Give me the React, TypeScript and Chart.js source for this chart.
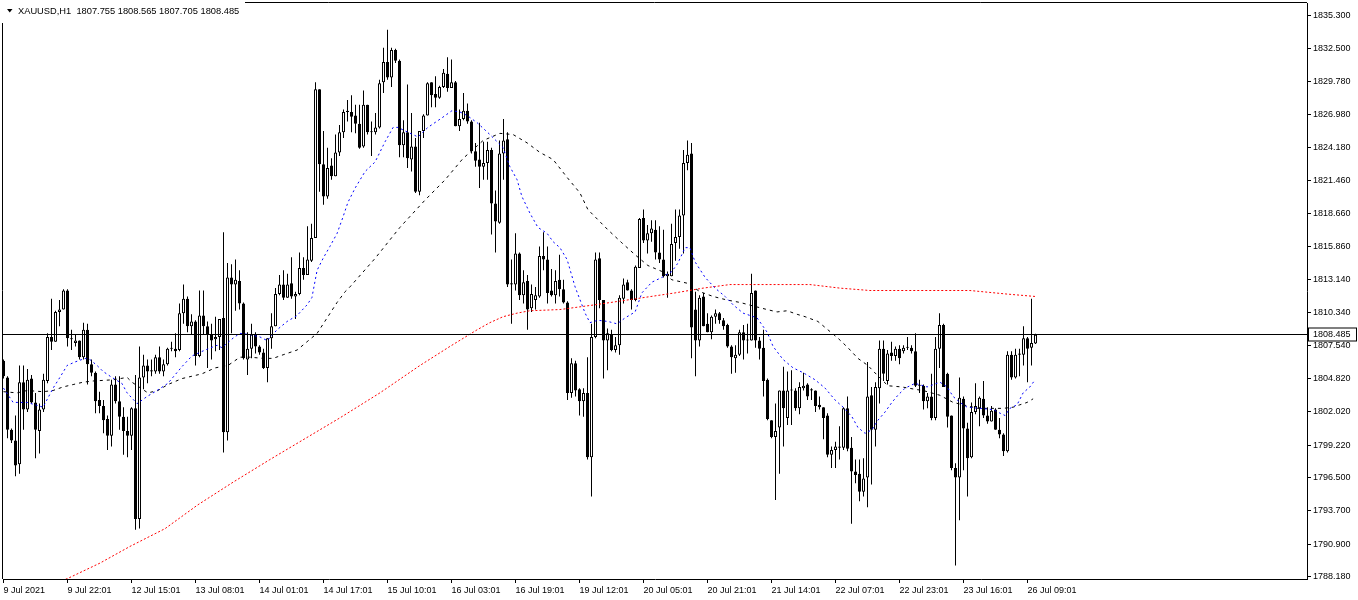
import React, { useEffect, useRef } from "react";
import { Chart, registerables } from "chart.js";

Chart.register(...registerables);

const symbolTitle = "XAUUSD,H1  1807.755 1808.565 1807.705 1808.485";
const bidPrice = 1808.485;
const timeLabelStep = 16;
const timeLabels = [
  "9 Jul 2021", "9 Jul 22:01", "12 Jul 15:01", "13 Jul 08:01", "14 Jul 01:01", "14 Jul 17:01",
  "15 Jul 10:01", "16 Jul 03:01", "16 Jul 19:01", "19 Jul 12:01", "20 Jul 05:01", "20 Jul 21:01",
  "21 Jul 14:01", "22 Jul 07:01", "22 Jul 23:01", "23 Jul 16:01", "26 Jul 09:01",
];
const priceTicks = [
  1835.3, 1832.5, 1829.78, 1826.98, 1824.18, 1821.46, 1818.66, 1815.86, 1813.14, 1810.34,
  1807.54, 1804.82, 1802.02, 1799.22, 1796.5, 1793.7, 1790.9, 1788.18,
];

const open = [
  1806.3, 1804.9, 1800.5, 1799.6, 1797.6, 1804.5, 1802.2, 1804.8, 1802.8, 1800.4,
  1802.2, 1804.6, 1808.3, 1807.9, 1810.4, 1810.6, 1812.2, 1808.2, 1807.8, 1808.0,
  1806.6, 1808.9, 1806.0, 1805.3, 1803.0, 1802.5, 1801.4, 1800.0, 1804.3, 1802.9,
  1801.6, 1800.4, 1800.0, 1802.3, 1793.0, 1804.9, 1805.9, 1805.5, 1805.4, 1806.6,
  1805.4, 1806.0, 1807.3, 1807.3, 1807.2, 1810.3, 1811.5, 1809.2, 1809.6, 1806.7,
  1810.1, 1809.2, 1808.5, 1808.1, 1808.3, 1809.9, 1800.3, 1813.3, 1812.7, 1813.0,
  1811.1, 1806.4, 1807.3, 1808.5, 1807.5, 1807.0, 1805.7, 1808.2, 1809.2, 1811.9,
  1812.7, 1811.6, 1812.8, 1811.7, 1811.9, 1814.1, 1813.5, 1814.7, 1816.6, 1829.1,
  1822.8, 1820.1, 1822.7, 1821.8, 1823.8, 1825.5, 1827.2, 1827.2, 1826.9, 1826.2,
  1824.3, 1827.8, 1825.5, 1825.5, 1825.9, 1829.7, 1831.4, 1830.1, 1832.4, 1831.5,
  1824.4, 1825.5, 1823.2, 1824.3, 1820.5, 1825.6, 1826.9, 1829.7, 1828.7, 1828.4,
  1829.3, 1830.4, 1829.2, 1829.7, 1826.0, 1826.6, 1827.3, 1826.4, 1823.9, 1823.2,
  1822.6, 1822.9, 1824.0, 1819.5, 1817.9, 1823.7, 1824.9, 1812.8, 1812.7, 1815.3,
  1811.8, 1813.0, 1810.7, 1811.4, 1811.7, 1815.1, 1814.8, 1812.2, 1811.8, 1813.1,
  1812.3, 1811.2, 1803.6, 1806.1, 1803.9, 1802.9, 1803.6, 1798.2, 1808.3, 1814.9,
  1811.4, 1808.0, 1808.5, 1807.2, 1807.6, 1811.5, 1812.9, 1812.2, 1811.4, 1814.1,
  1818.3, 1816.4, 1817.0, 1817.3, 1815.4, 1814.8, 1813.4, 1813.4, 1816.2, 1816.7,
  1818.5, 1822.9, 1823.7, 1810.6, 1808.0, 1811.7, 1809.4, 1808.7, 1810.0, 1810.3,
  1809.7, 1809.3, 1807.5, 1806.5, 1806.8, 1808.7, 1808.0, 1808.0, 1812.2, 1808.0,
  1807.4, 1804.7, 1801.3, 1799.9, 1800.7, 1803.8, 1801.5, 1803.8, 1803.8, 1802.3,
  1804.0, 1804.3, 1803.9, 1803.8, 1802.6, 1802.4, 1801.7, 1798.4, 1798.8, 1799.1,
  1799.0, 1802.3, 1799.0, 1797.0, 1796.8, 1795.3, 1796.5, 1803.4, 1800.5, 1804.0,
  1807.3, 1804.6, 1807.0, 1806.7, 1807.3, 1807.1, 1807.4, 1807.4, 1807.1, 1804.2,
  1804.2, 1802.9, 1803.3, 1801.5, 1807.3, 1809.3, 1805.2, 1801.7, 1797.3, 1796.5,
  1803.1, 1800.6, 1798.2, 1802.0, 1802.3, 1803.1, 1801.7, 1801.2, 1802.2, 1800.5,
  1800.1, 1798.7, 1806.8, 1804.9, 1806.8, 1806.8, 1808.2, 1807.4, 1807.755,
];
const high = [
  1806.4, 1805.0, 1800.6, 1801.7, 1805.9, 1805.9, 1805.6, 1805.1, 1803.6, 1802.7,
  1805.2, 1808.6, 1811.5, 1810.5, 1811.4, 1812.3, 1812.3, 1808.9, 1808.5, 1808.0,
  1809.5, 1809.4, 1806.4, 1805.4, 1803.7, 1803.0, 1801.7, 1804.7, 1805.0, 1805.0,
  1802.4, 1801.6, 1802.4, 1805.1, 1807.5, 1806.8, 1806.4, 1806.4, 1806.8, 1807.5,
  1806.4, 1807.4, 1807.9, 1808.6, 1811.1, 1812.7, 1811.7, 1810.2, 1809.7, 1812.2,
  1812.2, 1809.6, 1809.4, 1810.0, 1809.8, 1817.1, 1814.5, 1814.4, 1814.8, 1813.9,
  1811.2, 1808.7, 1809.4, 1808.7, 1807.6, 1807.3, 1808.2, 1810.3, 1812.4, 1813.5,
  1813.9, 1813.6, 1815.0, 1812.1, 1815.4, 1815.0, 1817.6, 1817.8, 1829.7, 1829.1,
  1825.6, 1824.2, 1823.3, 1825.3, 1826.1, 1827.4, 1828.2, 1828.6, 1827.8, 1827.8,
  1829.0, 1827.8, 1826.4, 1827.1, 1829.9, 1832.6, 1834.1, 1832.6, 1832.5, 1831.6,
  1826.5, 1829.5, 1827.1, 1825.0, 1825.6, 1827.0, 1829.7, 1829.7, 1830.2, 1829.4,
  1830.8, 1831.8, 1831.6, 1829.8, 1827.4, 1828.8, 1827.9, 1826.5, 1824.6, 1826.3,
  1824.7, 1824.7, 1824.2, 1820.6, 1824.8, 1826.6, 1825.5, 1814.8, 1817.0, 1815.4,
  1813.9, 1813.5, 1812.7, 1812.5, 1815.9, 1817.1, 1815.9, 1814.0, 1813.9, 1815.2,
  1813.1, 1811.3, 1806.5, 1806.3, 1804.0, 1804.0, 1806.6, 1809.4, 1815.4, 1815.4,
  1811.4, 1809.0, 1808.9, 1808.3, 1811.8, 1813.2, 1813.1, 1812.3, 1814.3, 1818.3,
  1819.0, 1817.7, 1818.1, 1818.1, 1817.6, 1817.3, 1813.8, 1817.8, 1819.0, 1819.0,
  1824.0, 1824.8, 1824.6, 1812.1, 1811.8, 1812.0, 1810.3, 1810.1, 1810.6, 1810.4,
  1809.9, 1809.4, 1807.6, 1807.6, 1808.9, 1809.3, 1809.4, 1813.6, 1812.2, 1808.3,
  1808.9, 1804.8, 1801.3, 1802.7, 1803.8, 1805.8, 1805.4, 1805.5, 1804.0, 1804.5,
  1805.3, 1804.4, 1804.0, 1803.8, 1803.3, 1802.4, 1801.9, 1799.1, 1799.5, 1800.8,
  1802.4, 1803.3, 1799.9, 1798.0, 1798.0, 1798.1, 1806.2, 1804.1, 1804.5, 1808.0,
  1808.0, 1807.2, 1807.9, 1807.5, 1807.6, 1807.6, 1808.3, 1807.6, 1808.6, 1804.7,
  1804.3, 1803.6, 1805.2, 1808.3, 1810.3, 1809.4, 1805.3, 1801.7, 1797.7, 1804.9,
  1803.3, 1801.1, 1802.8, 1804.4, 1803.3, 1804.6, 1802.4, 1802.5, 1802.3, 1801.5,
  1800.2, 1807.1, 1807.1, 1807.3, 1807.3, 1809.2, 1808.3, 1811.5, 1808.565,
];
const low = [
  1804.8, 1799.8, 1799.4, 1796.6, 1796.8, 1800.5, 1802.0, 1802.7, 1798.1, 1798.5,
  1802.0, 1804.4, 1807.2, 1807.9, 1809.2, 1810.6, 1807.5, 1807.2, 1807.5, 1806.4,
  1806.4, 1804.3, 1805.0, 1801.9, 1801.9, 1800.2, 1798.8, 1799.1, 1802.7, 1800.5,
  1798.4, 1798.2, 1798.8, 1792.1, 1792.2, 1803.9, 1804.4, 1805.0, 1805.2, 1805.2,
  1805.0, 1805.9, 1807.1, 1806.6, 1807.1, 1809.4, 1808.7, 1808.5, 1805.9, 1806.6,
  1808.5, 1805.7, 1806.4, 1807.1, 1807.2, 1798.6, 1799.6, 1808.6, 1810.5, 1810.6,
  1806.4, 1805.1, 1806.5, 1806.9, 1806.8, 1805.6, 1804.5, 1807.3, 1809.2, 1811.8,
  1811.4, 1811.6, 1811.5, 1809.8, 1811.8, 1813.1, 1813.5, 1814.6, 1816.6, 1820.5,
  1819.4, 1819.9, 1821.5, 1821.8, 1823.5, 1825.0, 1826.4, 1825.5, 1825.4, 1824.1,
  1824.2, 1825.3, 1823.5, 1825.3, 1825.8, 1828.8, 1829.9, 1829.3, 1831.3, 1823.4,
  1823.4, 1822.5, 1822.2, 1820.4, 1820.2, 1825.0, 1826.9, 1827.6, 1827.6, 1828.3,
  1829.2, 1828.9, 1829.2, 1826.0, 1825.6, 1826.5, 1826.2, 1823.7, 1822.6, 1820.8,
  1821.5, 1821.5, 1816.9, 1815.4, 1817.8, 1821.5, 1812.5, 1809.4, 1812.2, 1811.4,
  1811.1, 1808.9, 1810.4, 1810.6, 1811.6, 1813.9, 1811.1, 1811.7, 1811.1, 1811.7,
  1811.1, 1803.0, 1803.2, 1803.3, 1801.7, 1801.6, 1798.0, 1794.9, 1808.2, 1810.7,
  1804.8, 1805.5, 1807.1, 1807.0, 1806.8, 1811.1, 1812.2, 1810.6, 1811.3, 1814.1,
  1816.2, 1815.3, 1816.3, 1814.8, 1814.5, 1813.3, 1811.6, 1813.4, 1814.7, 1815.7,
  1815.3, 1822.3, 1806.5, 1805.0, 1807.5, 1809.2, 1808.7, 1808.1, 1809.4, 1809.4,
  1808.9, 1807.4, 1805.2, 1805.3, 1806.7, 1806.4, 1806.9, 1808.0, 1807.4, 1806.4,
  1803.3, 1801.3, 1799.8, 1794.6, 1796.8, 1799.1, 1800.9, 1800.9, 1802.1, 1801.8,
  1803.8, 1803.0, 1803.0, 1802.0, 1802.2, 1799.7, 1798.2, 1797.3, 1797.3, 1798.0,
  1798.8, 1798.7, 1792.6, 1796.0, 1794.5, 1794.9, 1794.0, 1795.9, 1799.1, 1802.7,
  1804.6, 1804.3, 1806.3, 1806.3, 1806.0, 1806.9, 1807.2, 1806.9, 1804.1, 1803.6,
  1802.2, 1802.3, 1801.3, 1801.3, 1805.7, 1804.1, 1800.7, 1797.1, 1789.1, 1792.9,
  1797.1, 1794.9, 1798.1, 1801.8, 1800.8, 1801.5, 1801.0, 1801.2, 1800.5, 1799.8,
  1798.3, 1798.6, 1804.7, 1804.8, 1805.0, 1805.9, 1804.5, 1805.9, 1807.705,
];
const close = [
  1805.0, 1800.5, 1799.6, 1797.5, 1804.5, 1802.2, 1804.7, 1802.8, 1800.5, 1802.2,
  1804.7, 1808.3, 1807.9, 1810.4, 1810.6, 1812.2, 1808.2, 1808.1, 1808.0, 1806.6,
  1808.9, 1806.0, 1805.3, 1802.9, 1802.5, 1801.3, 1800.0, 1804.3, 1802.9, 1801.6,
  1800.4, 1800.0, 1802.3, 1793.0, 1804.9, 1805.9, 1805.4, 1805.4, 1806.6, 1805.4,
  1806.0, 1807.3, 1807.3, 1807.1, 1810.3, 1811.5, 1809.2, 1809.6, 1806.7, 1810.1,
  1809.2, 1808.5, 1808.0, 1808.3, 1809.8, 1800.3, 1813.3, 1812.7, 1813.1, 1811.1,
  1806.5, 1807.3, 1808.5, 1807.5, 1807.0, 1805.7, 1808.2, 1809.2, 1811.9, 1812.7,
  1811.6, 1812.7, 1811.7, 1811.9, 1814.1, 1813.5, 1814.8, 1816.6, 1829.1, 1822.8,
  1820.1, 1822.5, 1821.8, 1823.8, 1825.5, 1827.2, 1827.3, 1826.8, 1826.2, 1824.2,
  1827.8, 1825.5, 1825.5, 1825.9, 1829.6, 1831.4, 1830.1, 1832.4, 1831.5, 1824.4,
  1825.5, 1823.3, 1824.3, 1820.5, 1825.6, 1826.9, 1829.6, 1828.6, 1828.4, 1829.3,
  1830.5, 1829.2, 1829.7, 1826.0, 1826.6, 1827.3, 1826.4, 1823.9, 1823.1, 1822.6,
  1822.9, 1824.0, 1819.5, 1818.0, 1823.7, 1824.8, 1812.7, 1812.7, 1815.3, 1811.8,
  1812.9, 1810.6, 1811.9, 1811.8, 1815.1, 1814.8, 1812.0, 1811.8, 1813.0, 1812.3,
  1811.2, 1803.6, 1806.1, 1803.8, 1802.9, 1803.6, 1798.2, 1808.3, 1814.8, 1811.4,
  1808.0, 1808.6, 1807.2, 1807.6, 1811.6, 1812.7, 1812.2, 1811.4, 1814.2, 1818.2,
  1816.4, 1817.0, 1817.4, 1815.4, 1814.8, 1813.4, 1813.6, 1816.1, 1816.7, 1818.5,
  1822.9, 1823.6, 1809.1, 1808.0, 1811.6, 1809.2, 1808.7, 1810.0, 1810.3, 1809.7,
  1809.2, 1807.5, 1806.6, 1806.8, 1808.7, 1808.0, 1808.0, 1812.0, 1808.0, 1807.3,
  1804.6, 1801.4, 1799.9, 1800.4, 1803.8, 1802.3, 1803.8, 1803.8, 1802.3, 1804.1,
  1804.2, 1803.3, 1803.8, 1802.5, 1802.4, 1801.5, 1798.4, 1798.8, 1799.1, 1799.0,
  1802.3, 1798.9, 1797.0, 1796.7, 1795.3, 1796.4, 1803.3, 1800.5, 1804.1, 1807.3,
  1805.2, 1806.9, 1806.7, 1807.3, 1806.5, 1807.4, 1807.4, 1807.1, 1804.2, 1804.2,
  1802.9, 1803.3, 1801.5, 1807.3, 1809.3, 1804.1, 1801.6, 1797.3, 1796.5, 1803.2,
  1800.6, 1798.1, 1802.0, 1802.5, 1803.2, 1801.7, 1801.2, 1802.1, 1800.5, 1800.1,
  1798.7, 1806.8, 1804.9, 1806.8, 1806.9, 1808.2, 1807.3, 1807.8, 1808.485,
];

// moving averages: [bar index, price]
const maFast: [number, number][] = [
  [0, 1804.0], [2.4, 1802.8], [5.9, 1802.8], [9.9, 1802.4], [12.4, 1804.0], [14.1, 1804.9],
  [15.9, 1805.9], [17.9, 1806.2], [20.4, 1806.5], [21.6, 1806.4], [23.4, 1805.9], [24.9, 1805.4],
  [27.1, 1804.9], [29.6, 1804.4], [30.9, 1803.6], [33.4, 1802.7], [35.9, 1803.3], [37.9, 1803.7],
  [41.1, 1804.4], [44.6, 1805.8], [47.1, 1806.7], [50.4, 1807.2], [53.4, 1807.6], [54.6, 1807.4],
  [57.4, 1808.2], [59.1, 1808.6], [61.6, 1808.5], [64.1, 1808.3], [65.9, 1808.0], [68.4, 1808.9],
  [70.9, 1809.6], [73.4, 1810.1], [75.9, 1811.0], [77.1, 1811.6], [78.4, 1813.9], [79.9, 1814.9],
  [81.6, 1815.9], [83.4, 1817.0], [84.9, 1818.4], [86.1, 1819.6], [87.9, 1820.8], [90.4, 1822.2],
  [92.9, 1823.0], [95.4, 1824.7], [97.4, 1825.9], [98.6, 1825.9], [101.1, 1825.5], [103.6, 1825.1],
  [106.1, 1825.9], [109.6, 1826.7], [112.1, 1827.3], [114.1, 1827.2], [115.9, 1826.9], [118.4, 1826.3],
  [121.6, 1825.3], [124.9, 1824.2], [126.6, 1822.6], [128.4, 1821.5], [129.6, 1820.1], [131.6, 1818.7],
  [133.6, 1817.5], [135.9, 1817.0], [137.4, 1816.3], [139.1, 1815.8], [140.9, 1814.8], [142.9, 1812.5],
  [145.4, 1810.3], [146.6, 1809.5], [148.6, 1809.7], [151.1, 1809.6], [153.4, 1809.4], [155.4, 1809.9],
  [157.9, 1810.4], [159.6, 1812.0], [162.1, 1812.9], [164.6, 1813.3], [167.1, 1813.8], [168.6, 1814.5],
  [170.4, 1815.8], [171.6, 1815.8], [172.9, 1814.6], [175.4, 1813.3], [177.9, 1812.4], [180.4, 1811.7],
  [182.4, 1811.0], [184.9, 1810.3], [188.4, 1809.9], [190.9, 1808.7], [192.4, 1807.5], [194.9, 1806.4],
  [197.4, 1805.7], [199.9, 1805.3], [202.9, 1804.7], [205.4, 1804.0], [207.9, 1803.0], [209.9, 1802.4],
  [212.1, 1801.6], [213.6, 1800.7], [215.4, 1800.2], [217.1, 1800.5], [218.6, 1801.3], [220.4, 1802.0],
  [222.1, 1802.8], [223.6, 1803.4], [225.4, 1804.0], [227.9, 1804.4], [230.9, 1804.1], [234.1, 1804.5],
  [235.9, 1804.1], [237.4, 1803.3], [239.1, 1802.8], [240.9, 1802.4], [244.1, 1802.3], [247.4, 1802.2],
  [249.1, 1801.9], [250.4, 1801.7], [251.6, 1802.3], [253.4, 1802.6], [254.9, 1803.6], [256.6, 1804.1],
  [257.9, 1804.7],
];
const maMid: [number, number][] = [
  [0, 1803.7], [3.4, 1803.6], [5.9, 1803.8], [9.9, 1803.7], [12.4, 1803.8], [14.9, 1804.1],
  [17.4, 1804.3], [19.9, 1804.5], [22.4, 1804.6], [27.4, 1804.7], [30.9, 1804.9], [32.1, 1804.5],
  [36.1, 1803.6], [38.6, 1803.8], [41.1, 1804.3], [44.6, 1804.8], [47.1, 1805.0], [49.6, 1805.2],
  [52.9, 1805.7], [56.1, 1805.9], [57.4, 1806.2], [59.1, 1806.6], [61.6, 1806.6], [64.9, 1806.5],
  [67.4, 1806.5], [69.9, 1806.8], [73.4, 1807.2], [75.9, 1807.9], [78.4, 1808.6], [80.9, 1809.9],
  [83.4, 1811.2], [85.4, 1812.1], [86.6, 1812.5], [92.9, 1814.9], [99.1, 1817.5], [105.4, 1819.8],
  [110.4, 1821.5], [114.9, 1823.3], [116.6, 1823.8], [119.9, 1824.8], [124.1, 1825.4], [127.4, 1825.3],
  [130.9, 1824.6], [134.1, 1823.8], [137.4, 1823.2], [140.9, 1821.7], [144.1, 1820.4], [146.1, 1819.0],
  [151.1, 1817.3], [154.6, 1816.2], [157.9, 1815.2], [161.1, 1814.3], [164.6, 1813.8], [167.1, 1813.1],
  [171.1, 1812.8], [174.1, 1812.1], [177.4, 1811.7], [180.9, 1811.4], [184.1, 1811.2], [187.4, 1810.9],
  [190.9, 1810.6], [193.4, 1810.4], [195.9, 1810.5], [198.4, 1810.2], [200.4, 1810.0], [203.6, 1809.6],
  [206.1, 1808.9], [208.6, 1808.2], [211.1, 1807.4], [213.6, 1806.5], [216.1, 1805.9], [218.4, 1805.1],
  [221.1, 1804.2], [224.6, 1804.1], [227.9, 1803.9], [229.9, 1803.8], [234.1, 1803.4], [237.4, 1802.8],
  [243.6, 1802.3], [249.9, 1802.3], [252.4, 1802.4], [254.1, 1802.6], [255.9, 1802.8], [257.4, 1803.1],
];
const maSlow: [number, number][] = [
  [9.1, 1787.0], [16.6, 1788.1], [24.1, 1789.3], [31.6, 1790.7], [40.4, 1792.2], [48.6, 1794.2],
  [57.4, 1796.1], [66.6, 1798.0], [74.1, 1799.5], [84.1, 1801.5], [94.1, 1803.6], [104.1, 1805.9],
  [111.6, 1807.5], [118.4, 1808.9], [121.6, 1809.5], [124.9, 1810.0], [128.4, 1810.3], [131.6, 1810.5],
  [139.1, 1810.6], [147.9, 1811.0], [157.9, 1811.5], [167.9, 1812.0], [174.9, 1812.4], [181.6, 1812.7],
  [193.4, 1812.7], [201.6, 1812.7], [209.1, 1812.4], [216.6, 1812.2], [229.1, 1812.2], [241.6, 1812.2],
  [250.9, 1811.9], [257.9, 1811.7],
];

const FONT_FAMILY = "'Liberation Sans', Arial, sans-serif";

export default function App() {
  const ref = useRef<HTMLCanvasElement | null>(null);

  useEffect(() => {
    document.body.style.margin = "0";
    const canvas = ref.current;
    if (!canvas) return;

    const wicks = close.map((_, i) => ({ x: i, y: [low[i], high[i]] }));
    const bodies = close.map((c, i) => ({ x: i, y: [open[i], c] }));
    const bodyColors = close.map((c, i) => (c >= open[i] ? "#ffffff" : "#000000"));
    const tickFont = { family: FONT_FAMILY, size: 9 };

    const overlay = {
      id: "mt4overlay",
      afterDatasetsDraw(chart: any) {
        const { ctx, chartArea, scales } = chart;
        const y = Math.round(scales.y.getPixelForValue(bidPrice) - 0.5) + 0.5;
        ctx.save();
        ctx.strokeStyle = "#000";
        ctx.lineWidth = 1;
        ctx.beginPath();
        ctx.moveTo(chartArea.left, y);
        ctx.lineTo(chartArea.right, y);
        ctx.stroke();
        ctx.restore();
      },
      afterDraw(chart: any) {
        const { ctx, chartArea, scales } = chart;
        ctx.save();
        // frame (left / top)
        ctx.strokeStyle = "#000";
        ctx.lineWidth = 1;
        ctx.beginPath();
        ctx.moveTo(chartArea.left - 0.5, chartArea.top - 1);
        ctx.lineTo(chartArea.left - 0.5, chartArea.bottom);
        ctx.moveTo(chartArea.left - 1, chartArea.top - 0.5);
        ctx.lineTo(chartArea.right, chartArea.top - 0.5);
        ctx.stroke();
        // title
        ctx.fillStyle = "#fff";
        ctx.fillRect(0, 0, 245, 23);
        ctx.fillStyle = "#000";
        ctx.beginPath();
        ctx.moveTo(7, 9);
        ctx.lineTo(12.5, 9);
        ctx.lineTo(9.75, 12.5);
        ctx.closePath();
        ctx.fill();
        ctx.font = `9.3px ${FONT_FAMILY}`;
        ctx.textBaseline = "middle";
        ctx.textAlign = "left";
        ctx.fillText(symbolTitle, 18, 11.5);
        // bid price label
        ctx.font = `9px ${FONT_FAMILY}`;
        const y = Math.round(scales.y.getPixelForValue(bidPrice) - 0.5) + 0.5;
        const x0 = chartArea.right + 1.5;
        ctx.fillStyle = "#fff";
        ctx.fillRect(x0, y - 6.5, 48, 13);
        ctx.strokeRect(x0, y - 6.5, 48, 13);
        ctx.fillStyle = "#000";
        ctx.fillText(bidPrice.toFixed(3), chartArea.right + 6, y + 0.5);
        ctx.restore();
      },
    };

    const chart = new Chart(canvas, {
      type: "bar",
      data: {
        datasets: [
          {
            type: "line",
            data: maFast.map(([x, y]) => ({ x, y })),
            borderColor: "#0000ff",
            borderWidth: 1,
            borderDash: [2, 3],
            pointRadius: 0,
            tension: 0,
            order: 0,
          },
          {
            type: "line",
            data: maMid.map(([x, y]) => ({ x, y })),
            borderColor: "#000000",
            borderWidth: 1,
            borderDash: [3, 4],
            pointRadius: 0,
            tension: 0,
            order: 0,
          },
          {
            type: "line",
            data: maSlow.map(([x, y]) => ({ x, y })),
            borderColor: "#ff0000",
            borderWidth: 1,
            borderDash: [2, 2],
            pointRadius: 0,
            tension: 0,
            order: 0,
          },
          {
            type: "bar",
            data: bodies as any,
            backgroundColor: bodyColors,
            borderColor: "#000000",
            borderWidth: 1,
            borderSkipped: false,
            barThickness: 3,
            grouped: false,
            minBarLength: 1,
            inflateAmount: 0,
            order: 1,
          },
          {
            type: "bar",
            data: wicks as any,
            backgroundColor: "#000000",
            borderWidth: 0,
            barThickness: 1,
            grouped: false,
            inflateAmount: 0,
            order: 2,
          },
        ] as any,
      },
      options: {
        responsive: false,
        animation: false,
        devicePixelRatio: 1,
        events: [],
        layout: { padding: { left: 3, top: 3, right: 0, bottom: 0 } },
        plugins: {
          legend: { display: false },
          tooltip: { enabled: false },
          title: { display: false },
        },
        scales: {
          x: {
            type: "linear",
            position: "bottom",
            min: -0.125,
            max: 325.875,
            offset: false,
            grid: { display: true, drawOnChartArea: false, drawTicks: true, tickLength: 4, color: "#000", offset: false },
            border: { display: true, color: "#000", width: 1 },
            ticks: {
              autoSkip: false,
              maxRotation: 0,
              minRotation: 0,
              align: "start",
              padding: 2,
              color: "#000",
              font: tickFont,
              callback: (_v: any, index: number) => timeLabels[index],
            },
            afterBuildTicks: (s: any) => {
              s.ticks = timeLabels.map((_, k) => ({ value: k * timeLabelStep }));
            },
            afterFit: (s: any) => {
              s.height = 21;
              s.paddingLeft = 0;
              s.paddingRight = 0;
            },
          },
          y: {
            type: "linear",
            position: "right",
            min: 1787.967,
            max: 1836.35,
            beginAtZero: false,
            grid: { display: true, drawOnChartArea: false, drawTicks: true, tickLength: 4, color: "#000" },
            border: { display: true, color: "#000", width: 1 },
            ticks: {
              autoSkip: false,
              padding: 2,
              color: "#000",
              font: tickFont,
              callback: (v: any) => Number(v).toFixed(3),
            },
            afterBuildTicks: (s: any) => {
              s.ticks = priceTicks.map((v) => ({ value: v }));
            },
            afterFit: (s: any) => {
              s.width = 51;
              s.paddingTop = 0;
              s.paddingBottom = 0;
            },
          },
        } as any,
      },
      plugins: [overlay],
    });

    return () => chart.destroy();
  }, []);

  return (
    <div style={{ position: "absolute", left: 0, top: 0, width: 1358, height: 600, background: "#fff" }}>
      <canvas ref={ref} width={1358} height={600} style={{ display: "block", width: 1358, height: 600 }} />
    </div>
  );
}
